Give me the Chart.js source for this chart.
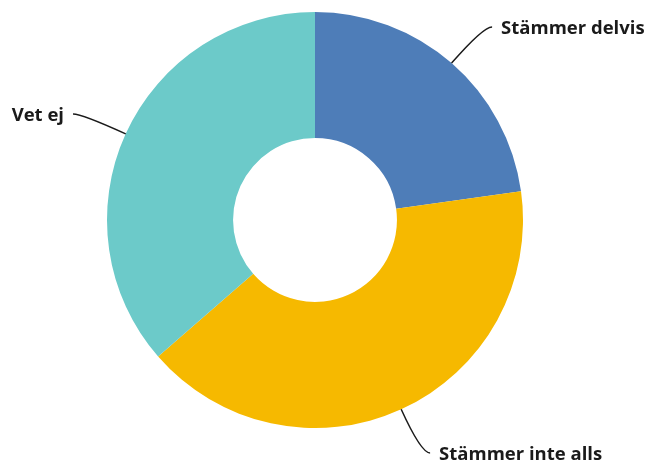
<!DOCTYPE html>
<html>
  <head>
    <meta charset="utf-8"/>
    <style type="text/css">
      body {
        margin: 0px;
        padding: 0px;
        background: #ffffff;
      }
      #container {
        width: 650px;
        height: 464px;
      }
    </style>
  </head>
  <body>
    <div id="container"><canvas id="chart"></canvas></div>
    <script src="https://cdn.jsdelivr.net/npm/chart.js@4/dist/chart.umd.min.js"></script>
    <script>
      var labels = ['Stämmer delvis', 'Stämmer inte alls', 'Vet ej'];
      var values = [22.8, 40.8, 36.4];
      var colors = ['#4e7db8', '#f6b900', '#6ccac9'];

      // outside labels with curved leader lines
      var leaderLabels = {
        id: 'leaderLabels',
        afterDatasetsDraw: function(chart) {
          var ctx = chart.ctx;
          var meta = chart.getDatasetMeta(0);
          ctx.save();
          ctx.font = '700 18.5px "Open Sans", sans-serif';
          ctx.textBaseline = 'middle';
          ctx.strokeStyle = '#1a1a1a';
          ctx.fillStyle = '#1a1a1a';
          ctx.lineWidth = 1.5;
          meta.data.forEach(function(arc, i) {
            var p = arc.getProps(['x', 'y', 'startAngle', 'endAngle', 'outerRadius'], true);
            var a = (p.startAngle + p.endAngle) / 2;
            var dx = Math.cos(a), dy = Math.sin(a);
            var x0 = p.x + dx * p.outerRadius, y0 = p.y + dy * p.outerRadius;
            var cx = p.x + dx * (p.outerRadius + 48), cy = p.y + dy * (p.outerRadius + 48);
            var side = dx >= 0 ? 1 : -1;
            var x1 = cx + side * 9, y1 = cy;
            ctx.beginPath();
            ctx.moveTo(x0, y0);
            ctx.quadraticCurveTo(cx, cy, x1, y1);
            ctx.stroke();
            ctx.textAlign = side > 0 ? 'left' : 'right';
            ctx.fillText(labels[i], x1 + side * 9, y1 + 2);
          });
          ctx.restore();
        }
      };

      new Chart(document.getElementById('chart'), {
        type: 'doughnut',
        data: {
          labels: labels,
          datasets: [{
            data: values,
            backgroundColor: colors,
            borderWidth: 0
          }]
        },
        options: {
          responsive: true,
          maintainAspectRatio: false,
          animation: false,
          cutout: '39.4%',
          layout: {
            padding: { left: 0, right: 20, top: 12, bottom: 36 }
          },
          plugins: {
            legend: { display: false },
            tooltip: { enabled: false }
          }
        },
        plugins: [leaderLabels]
      });
    </script>
  </body>
</html>
